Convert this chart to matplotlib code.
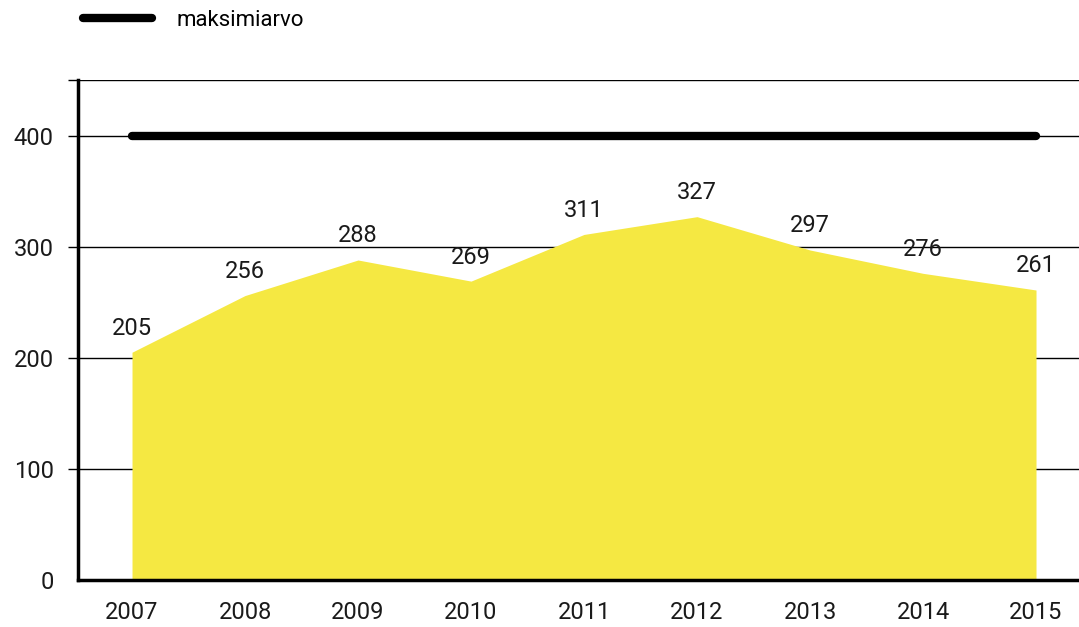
import matplotlib
matplotlib.use("Agg")
import matplotlib.pyplot as plt
import numpy as np

years = ["2007", "2008", "2009", "2010", "2011", "2012", "2013", "2014", "2015"]
values = [205, 256, 288, 269, 311, 327, 297, 276, 261]
max_value = [400] * len(years)
yticks = [0, 100, 200, 300, 400, 450]
ytick_labels = ["0", "100", "200", "300", "400", ""]
legend_label = "maksimiarvo"

plt.rcParams["font.family"] = ["Roboto", "DejaVu Sans"]

W, H = 1079, 627
fig = plt.figure(figsize=(W / 100, H / 100), dpi=100)
ax = fig.add_axes([78 / W, 1 - 580 / H, 1 - 78 / W, (580 - 80) / H])

x = np.arange(len(years))
ax.fill_between(x, 0, values, color="#F5E842", lw=0, zorder=2)
ax.plot(x, max_value, color="black", lw=6, solid_capstyle="round", zorder=3, label=legend_label)

for xi, v in zip(x, values):
    ax.annotate(str(v), (xi, v), xytext=(0, 9), textcoords="offset points",
                ha="center", va="bottom", fontsize=17, color="#1a1a1a")

ax.set_xlim(-0.478, -0.478 + (W - 78) / 113)
ax.set_ylim(0, 450)
ax.set_xticks(x)
ax.set_xticklabels(years, fontsize=17, color="#1a1a1a")
ax.set_yticks(yticks)
ax.set_yticklabels(ytick_labels, fontsize=17, color="#1a1a1a")

ax.tick_params(axis="x", length=0, pad=15)
ax.tick_params(axis="y", length=7.5, width=1, color="black", pad=10)
ax.yaxis.grid(True, color="black", lw=1)
ax.set_axisbelow(True)
ax.yaxis.get_major_ticks()[0].tick1line.set_visible(False)

for s in ["top", "right"]:
    ax.spines[s].set_visible(False)
ax.spines["left"].set_linewidth(2.5)
ax.spines["bottom"].set_linewidth(2.5)
ax.spines["left"].set_zorder(5)
ax.spines["bottom"].set_zorder(5)

leg = fig.legend(loc="center left", bbox_to_anchor=(83 / W, 1 - 20 / H), frameon=False,
                 borderpad=0, borderaxespad=0, handlelength=3.1, handletextpad=1.1,
                 fontsize=16)
for line in leg.get_lines():
    line.set_linewidth(6)
    line.set_solid_capstyle("round")

fig.savefig("out.png", dpi=100)
